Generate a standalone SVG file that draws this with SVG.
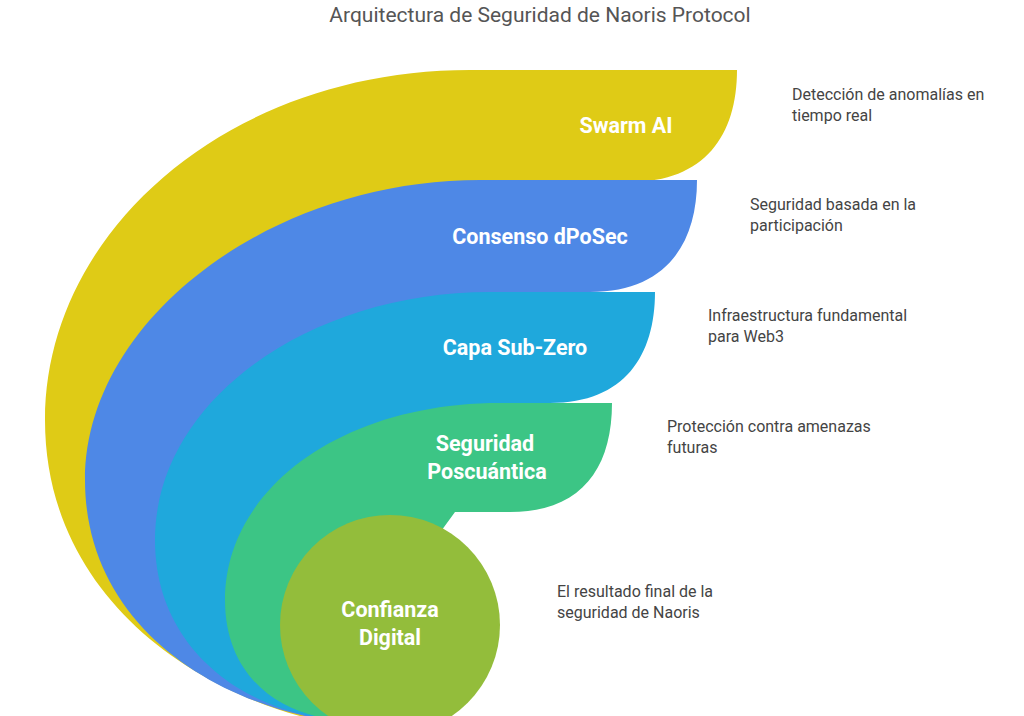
<svg xmlns="http://www.w3.org/2000/svg" width="1024" height="716" viewBox="0 0 1024 716">
<style>
.t{font-family:"Roboto","Liberation Sans",sans-serif;font-weight:bold;font-size:21.5px;fill:#fff;text-anchor:middle}
.d{font-family:"Roboto","Liberation Sans",sans-serif;font-size:16px;fill:#444}
</style>
<rect width="1024" height="716" fill="#fff"/>
<text x="540" y="22" text-anchor="middle" style="font-family:Roboto,'Liberation Sans',sans-serif;font-size:21px;fill:#555">Arquitectura de Seguridad de Naoris Protocol</text>
<g id="swarm">
<path d="M470,70 H737 C737,135 705,182 630,182 L480,182 L390,625 L390,716 L300,716 C170,680 45,580 45,420 C45,230 230,70 470,70Z" fill="#dfcb16"/>
<text class="t" x="626" y="133">Swarm AI</text>
</g>
<g id="dposec">
<path d="M480,180 H697 C697,245 665,292 590,292 L490,292 L390,625 L390,716 L305,716 C190,690 85,610 85,480 C85,320 270,180 480,180Z" fill="#4e88e6"/>
<text class="t" x="540" y="244">Consenso dPoSec</text>
</g>
<g id="subzero">
<path d="M490,292 H655 C655,355 625,403 550,403 L500,403 L390,625 L390,716 L310,716 C230,700 155,640 155,540 C155,400 310,292 490,292Z" fill="#1fa8dc"/>
<text class="t" x="515" y="355">Capa Sub-Zero</text>
</g>
<g id="poscuantica">
<path d="M500,403 H612 C612,470 580,512 510,512 L455,512 L420,560 L390,625 L390,716 L315,716 C270,705 225,670 225,600 C225,490 340,403 500,403Z" fill="#3cc585"/>
<text class="t" x="485" y="451">Seguridad</text>
<text class="t" x="487" y="479">Poscuántica</text>
</g>
<g id="confianza">
<circle cx="390" cy="625" r="110" fill="#93bd3b"/>
<text class="t" x="390" y="617">Confianza</text>
<text class="t" x="390" y="645">Digital</text>
</g>
<g id="labels">
<text class="d" x="792" y="100">Detección de anomalías en</text>
<text class="d" x="792" y="121">tiempo real</text>
<text class="d" x="750" y="210">Seguridad basada en la</text>
<text class="d" x="750" y="231">participación</text>
<text class="d" x="708" y="321">Infraestructura fundamental</text>
<text class="d" x="708" y="342">para Web3</text>
<text class="d" x="667" y="432">Protección contra amenazas</text>
<text class="d" x="667" y="453">futuras</text>
<text class="d" x="557" y="597">El resultado final de la</text>
<text class="d" x="557" y="618">seguridad de Naoris</text>
</g>
<g id="connectors"/>
</svg>
